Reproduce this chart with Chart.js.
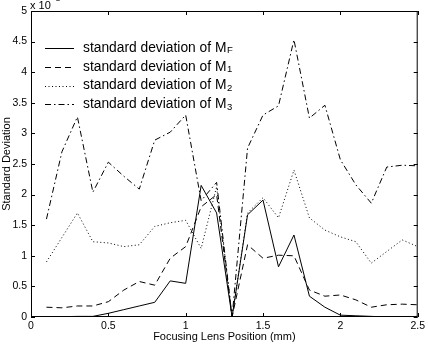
<!DOCTYPE html>
<html lang="en">
<head>
  <meta charset="UTF-8" />
  <title>Standard Deviation vs Focusing Lens Position</title>
  <script src="https://cdn.jsdelivr.net/npm/chart.js"></script>
  <style>
    html, body { margin: 0; padding: 0; background: #fff; }
    #wrap { width: 428px; height: 344px; }
  </style>
</head>
<body>
<div id="wrap"><canvas id="sdChart" width="428" height="344"></canvas></div>
<script>
  // focusing lens position (mm)
  const positions = [0.1, 0.2, 0.3, 0.4, 0.5, 0.6, 0.7, 0.8, 0.9, 1.0, 1.1, 1.2, 1.3,
                     1.4, 1.5, 1.6, 1.7, 1.8, 1.9, 2.0, 2.1, 2.2, 2.3, 2.4, 2.5];
  // standard deviations, x 10^-3
  const sdMF = [0.005, 0.005, 0.01, 0.01, 0.06, 0.12, 0.18, 0.24, 0.59, 0.55, 2.15, 1.7, 0,
                1.67, 1.91, 0.82, 1.34, 0.34, 0.16, 0.03, 0.02, 0.01, 0.0, 0.0, 0.01];
  const sdM1 = [0.16, 0.15, 0.18, 0.18, 0.25, 0.44, 0.58, 0.52, 0.96, 1.15, 1.8, 2.0, 0,
                1.18, 0.96, 1.01, 1.0, 0.44, 0.34, 0.36, 0.28, 0.16, 0.2, 0.21, 0.2];
  const sdM2 = [0.9, 1.3, 1.7, 1.23, 1.21, 1.15, 1.18, 1.48, 1.54, 1.58, 1.12, 2.13, 0,
                1.7, 1.95, 1.62, 2.4, 1.62, 1.42, 1.31, 1.23, 0.88, 1.07, 1.26, 1.15];
  const sdM3 = [1.6, 2.7, 3.27, 2.04, 2.53, 2.3, 2.09, 2.89, 3.02, 3.3, 1.9, 2.2, 0,
                2.76, 3.3, 3.45, 4.53, 3.25, 3.46, 2.57, 2.16, 1.86, 2.45, 2.48, 2.47];

  const legendSubs = ['F', '1', '2', '3'];
  const yTicks = [0, 0.5, 1, 1.5, 2, 2.5, 3, 3.5, 4, 4.5, 5];
  const xTicks = [0, 0.5, 1, 1.5, 2, 2.5];

  const FONT = '"Liberation Sans", Arial, Helvetica, sans-serif';

  function pts(ys) {
    return positions.map((x, i) => ({ x: x, y: ys[i] }));
  }

  const dashes = [[], [6, 4], [1, 2.5], [6, 3, 1.5, 3]];
  const series = [sdMF, sdM1, sdM2, sdM3];

  // box, inward ticks, legend with subscripts, exponent label
  const matlabLook = {
    id: 'matlabLook',
    afterDraw(chart) {
      const ctx = chart.ctx;
      const a = chart.chartArea;
      const xs = chart.scales.x, ys = chart.scales.y;
      ctx.save();
      ctx.strokeStyle = '#000';
      ctx.lineWidth = 1;
      ctx.setLineDash([]);
      ctx.strokeRect(a.left + 0.5, a.top + 0.5, a.right - a.left - 1, a.bottom - a.top - 1);
      ctx.beginPath();
      xTicks.forEach(v => {
        const px = Math.round(xs.getPixelForValue(v)) + 0.5;
        ctx.moveTo(px, a.bottom); ctx.lineTo(px, a.bottom - 4);
        ctx.moveTo(px, a.top); ctx.lineTo(px, a.top + 4);
      });
      yTicks.forEach(v => {
        const py = Math.round(ys.getPixelForValue(v)) + 0.5;
        ctx.moveTo(a.left, py); ctx.lineTo(a.left + 4, py);
        ctx.moveTo(a.right, py); ctx.lineTo(a.right - 4, py);
      });
      ctx.stroke();

      // exponent label (cut at the top edge, as in the source figure)
      ctx.fillStyle = '#000';
      ctx.textBaseline = 'alphabetic';
      ctx.font = '11px ' + FONT;
      ctx.fillText('x 10', 30, 9);
      ctx.font = '8px ' + FONT;
      ctx.fillText('-3', 53, 1);

      // legend
      chart.data.datasets.forEach((ds, i) => {
        const cy = 48 + i * 18.8;
        ctx.beginPath();
        ctx.setLineDash(ds.borderDash || []);
        ctx.lineWidth = 1;
        ctx.moveTo(45, Math.round(cy) + 0.5);
        ctx.lineTo(74, Math.round(cy) + 0.5);
        ctx.stroke();
        ctx.setLineDash([]);
        ctx.font = '13.8px ' + FONT;
        ctx.textBaseline = 'middle';
        const main = 'standard deviation of M';
        ctx.fillText(main, 83, cy);
        const w = ctx.measureText(main).width;
        ctx.font = '9.5px ' + FONT;
        ctx.fillText(legendSubs[i], 83 + w + 0.5, cy + 2.5);
      });
      ctx.restore();
    }
  };

  new Chart(document.getElementById('sdChart'), {
    type: 'line',
    data: {
      datasets: series.map((s, i) => ({
        label: 'standard deviation of M' + legendSubs[i],
        data: pts(s),
        borderColor: '#000',
        borderWidth: 1,
        borderDash: dashes[i],
        pointRadius: 0,
        tension: 0,
        fill: false
      }))
    },
    options: {
      responsive: false,
      animation: false,
      layout: { padding: { top: 11, right: 7, left: 0, bottom: 0 } },
      plugins: {
        legend: { display: false },
        tooltip: { enabled: false }
      },
      scales: {
        x: {
          type: 'linear',
          min: 0, max: 2.5,
          afterFit: s => { s.height = 27; },
          afterBuildTicks: s => { s.ticks = xTicks.map(v => ({ value: v })); },
          grid: { display: false, drawTicks: false },
          border: { display: false },
          ticks: {
            color: '#000', padding: 3,
            font: { family: FONT, size: 10.5 },
            maxRotation: 0,
            callback: v => String(v)
          },
          title: {
            display: true, text: 'Focusing Lens Position (mm)',
            color: '#000', padding: 0,
            font: { family: FONT, size: 11 }
          }
        },
        y: {
          min: 0, max: 5,
          afterFit: s => { s.width = 31; },
          afterBuildTicks: s => { s.ticks = yTicks.map(v => ({ value: v })); },
          grid: { display: false, drawTicks: false },
          border: { display: false },
          ticks: {
            color: '#000', padding: 4,
            font: { family: FONT, size: 10.5 },
            callback: v => String(v)
          },
          title: {
            display: true, text: 'Standard Deviation',
            color: '#000', padding: 0,
            font: { family: FONT, size: 11 }
          }
        }
      }
    },
    plugins: [matlabLook]
  });
</script>
</body>
</html>
